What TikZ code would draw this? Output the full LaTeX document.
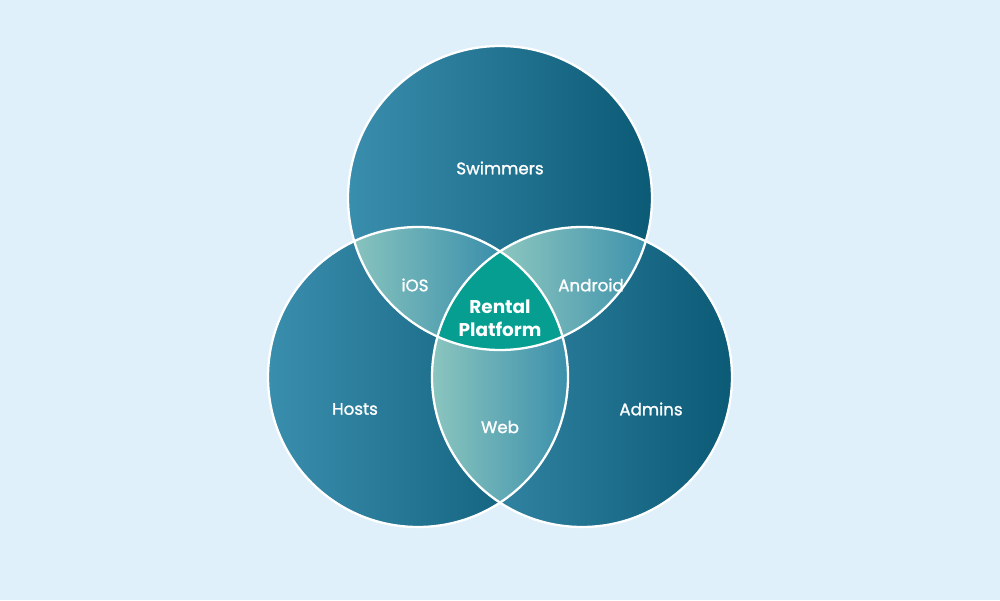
\documentclass[tikz,border=0pt]{standalone}
\usepackage{fontspec}
\setmainfont{Poppins}
\newfontfamily\lblfont[FakeBold=1.3]{Poppins}
\begin{document}
\begin{tikzpicture}
\definecolor{bg}{HTML}{DFF0FA}
\definecolor{cl}{HTML}{3A8EAD}
\definecolor{cd}{HTML}{0B5A76}
\definecolor{ll}{HTML}{8CC6BF}
\definecolor{ld}{HTML}{3A8FAB}
\definecolor{tealc}{HTML}{069E91}
\tikzset{lbl/.style={text=white,font=\lblfont\fontsize{9.5}{11}\selectfont},
 outline/.style={draw=white,line width=1.3pt}}
\fill[bg] (0,0) rectangle (20,12);
\useasboundingbox (0,0) rectangle (20,12);
\def\T{(10,8.04) circle (3.04)}
\def\L{(8.36,4.46) circle (3.0)}
\def\R{(11.64,4.46) circle (3.0)}
\shade[left color=cl,right color=cd] \T;
\shade[left color=cl,right color=cd] \L;
\shade[left color=cl,right color=cd] \R;
\begin{scope}\clip \T; \clip \L;
 \shade[left color=ll,right color=ld] (6.9,3) rectangle (10,8);\end{scope}
\begin{scope}\clip \T; \clip \R;
 \shade[left color=ll,right color=ld] (10,3) rectangle (13.1,8);\end{scope}
\begin{scope}\clip \L; \clip \R;
 \shade[left color=ll,right color=ld] (8.6,1.5) rectangle (11.4,6);\end{scope}
\begin{scope}\clip \T; \clip \L; \clip \R;
 \fill[tealc] (7,3) rectangle (13,8);\end{scope}
\draw[outline] \T; \draw[outline] \L; \draw[outline] \R;
\node[lbl] (sw) at (10,8.64) {Swimmers};
\node[lbl] (ios) at (8.3,6.3) {iOS};
\node[lbl] (and) at (11.82,6.3) {Android};
\node[lbl,font=\fontsize{10.5}{13}\selectfont\bfseries,align=center] (rp) at (10,5.63) {Rental\\Platform};
\node[lbl] (ho) at (7.1,3.82) {Hosts};
\node[lbl] (ad) at (13.02,3.82) {Admins};
\node[lbl] (web) at (10,3.46) {Web};
\end{tikzpicture}
\end{document}
